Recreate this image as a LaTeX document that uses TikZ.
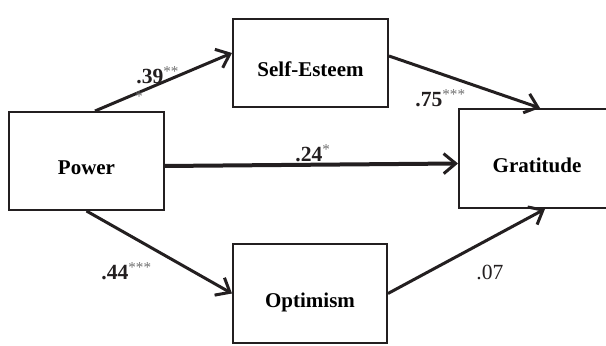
\documentclass[tikz,border=0pt]{standalone}
\usepackage{fontspec}
\setmainfont{Liberation Serif}
\usetikzlibrary{arrows.meta}
\definecolor{ink}{HTML}{231F20}
\definecolor{stargray}{HTML}{707070}

\begin{document}
\begin{tikzpicture}[x=0.5pt,y=-0.5pt,
  font=\fontsize{10.8}{12}\selectfont,
  varbox/.style={draw=ink, line width=1pt, inner sep=0pt, text height=14pt, text depth=0pt, font=\fontsize{10.5}{12}\selectfont\bfseries},
  path/.style={draw=ink, line width=1.5pt, -{Straight Barb[length=6pt,width=10pt,line width=1.5pt]}},
  coef/.style={anchor=base west, inner sep=0pt, text=ink}]
\useasboundingbox (0,0) rectangle (606,346);

\node[varbox, minimum width=77.5pt, minimum height=49pt]   (power)      at (86.5,161)   {Power};
\node[varbox, minimum width=77.5pt, minimum height=44pt]   (selfesteem) at (310.5,63)   {Self-Esteem};
\node[varbox, minimum width=78pt,   minimum height=49.5pt] (gratitude)  at (537,158.5) {Gratitude};
\node[varbox, minimum width=77pt,   minimum height=49.5pt] (optimism)   at (310,293.5)  {Optimism};

\draw[path] ([xshift=4.25pt]power.north) -- ([yshift=5pt]selfesteem.west);
\draw[path] ([yshift=3.5pt]selfesteem.east) -- ([xshift=1.5pt]gratitude.north);
\draw[path, line width=2pt] ([yshift=-2.5pt]power.east) -- ([yshift=-2.5pt]gratitude.west);
\draw[path] (power.south) -- (optimism.west);
\draw[path] (optimism.east) -- ([xshift=4pt]gratitude.south);

\node[coef] (c39) at (136,84)  {\textbf{.39}\textsuperscript{\color{stargray}**}};
\node[inner sep=0pt, text=stargray] (c39b) at (139,97) {\fontsize{7.5}{8}\selectfont *};
\node[coef] (c75) at (415,107) {\textbf{.75}\textsuperscript{\color{stargray}***}};
\node[coef] (c24) at (295,162) {\textbf{.24}\textsuperscript{\color{stargray}*}};
\node[coef] (c44) at (101,280) {\textbf{.44}\textsuperscript{\color{stargray}***}};
\node[coef] (c07) at (476,280) {.07};
\end{tikzpicture}
\end{document}
